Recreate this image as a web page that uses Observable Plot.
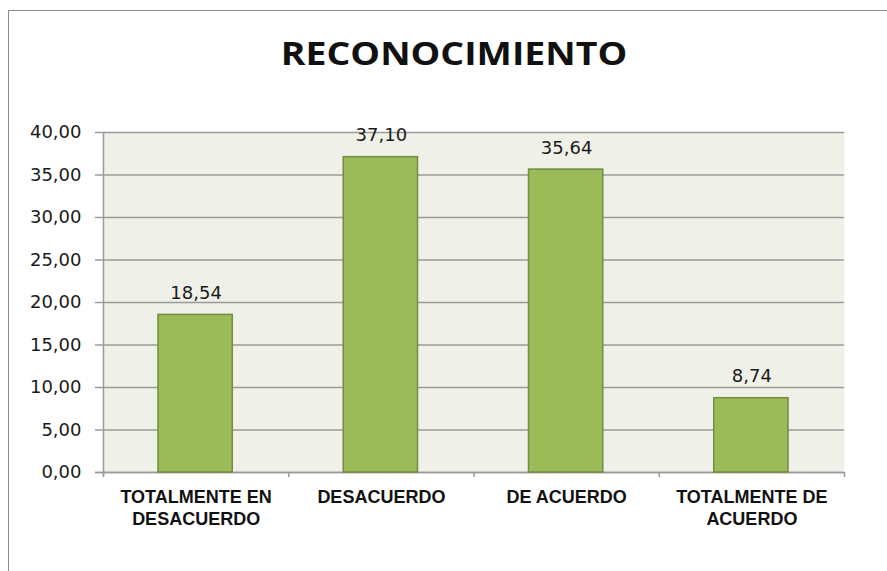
<!DOCTYPE html>
<html>
<head>
<meta charset="utf-8">
<script src="https://cdn.jsdelivr.net/npm/d3@7"></script>
<script src="https://cdn.jsdelivr.net/npm/@observablehq/plot@0.6"></script>
<style>
  html, body { margin: 0; padding: 0; background: #fff; overflow: hidden; }
  #wrap { position: relative; width: 887px; height: 571px; }
  #border { position: absolute; left: 8px; top: 10px; width: 1000px; height: 1000px;
            border-left: 1.5px solid #8c8c8c; border-top: 1.5px solid #8c8c8c; }
  #title { position: absolute; left: 8px; top: 37px; width: 892px; text-align: center;
           font-family: "Open Sans", sans-serif; font-weight: 700; font-size: 32px;
           line-height: 32px; letter-spacing: 0px; color: #111;
           transform: scaleX(1.17); transform-origin: 50% 50%; }
  #chart { position: absolute; left: 0; top: 100px; }
</style>
</head>
<body>
<div id="wrap">
  <div id="border"></div>
  <div id="title">RECONOCIMIENTO</div>
  <div id="chart"></div>
</div>
<script>
const categories = ["TOTALMENTE EN\nDESACUERDO", "DESACUERDO", "DE ACUERDO", "TOTALMENTE DE\nACUERDO"];
const values = [18.54, 37.10, 35.64, 8.74];
const yTicks = [0, 5, 10, 15, 20, 25, 30, 35, 40];

const fmt = v => v.toFixed(2).replace(".", ",");
const data = categories.map((c, i) => ({i, category: c, value: values[i]}));
const boundaries = d3.range(categories.length + 1);

const chart = Plot.plot({
  width: 887,
  height: 471,
  marginLeft: 103,
  marginRight: 43,
  marginTop: 32,
  marginBottom: 99,
  style: {fontFamily: "DejaVu Sans, sans-serif", color: "#1a1a1a", background: "transparent"},
  x: {domain: [0, categories.length]},
  y: {domain: [0, 40]},
  marks: [
    Plot.frame({fill: "#eff1e9", stroke: null}),
    Plot.gridY(yTicks, {stroke: "#9a9a9a", strokeOpacity: 1, strokeWidth: 1.5}),
    Plot.axisY({ticks: yTicks, tickSize: 8, tickPadding: 14, tickFormat: fmt, fontSize: 18,
                stroke: "#9a9a9a", strokeWidth: 1.5, strokeOpacity: 1, label: null}),
    Plot.axisX({ticks: boundaries, tickSize: 5, tickFormat: () => "", stroke: "#9a9a9a",
                strokeWidth: 1.5, strokeOpacity: 1, label: null}),
    Plot.ruleX([0], {stroke: "#9a9a9a", strokeWidth: 1.5, insetBottom: -4}),
    Plot.ruleY([0], {stroke: "#9a9a9a", strokeWidth: 1.5, insetLeft: -8}),
    Plot.rectY(data, {x1: "i", x2: d => d.i + 1, y: "value", insetLeft: 55, insetRight: 56,
                      fill: "#9bbb59", stroke: "#738b42", strokeWidth: 1.5}),
    Plot.text(data, {x: d => d.i + 0.5, y: "value", text: d => fmt(d.value), lineAnchor: "bottom",
                     dy: -16, fontSize: 18, fill: "#1a1a1a"}),
    Plot.text(data, {x: d => d.i + 0.5, y: () => 0, text: "category", lineAnchor: "top", dy: 15,
                     fontSize: 18, fontWeight: "bold", lineHeight: 1.22,
                     fontFamily: "Liberation Sans, Arial, sans-serif", fill: "#111"})
  ]
});
document.getElementById("chart").appendChild(chart);
</script>
</body>
</html>
